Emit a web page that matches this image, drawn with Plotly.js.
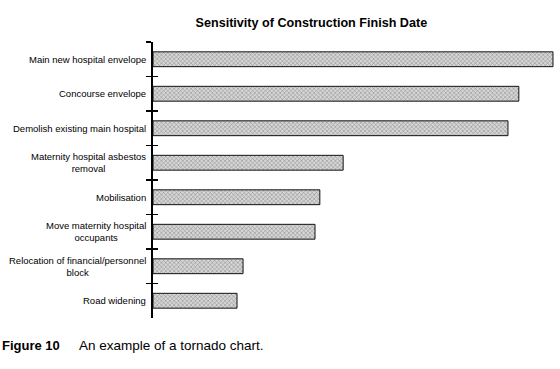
<!DOCTYPE html>
<html>
<head>
<meta charset="utf-8">
<script src="https://cdn.plot.ly/plotly-3.0.1.min.js"></script>
<style>html,body{margin:0;padding:0;background:#fff;}#chart{width:560px;height:369px;}</style>
</head>
<body>
<div id="chart"></div>
<script>
const categories = [
  "Main new hospital envelope",
  "Concourse envelope",
  "Demolish existing main hospital",
  "Maternity hospital asbestos removal",
  "Mobilisation",
  "Move maternity hospital occupants",
  "Relocation of financial/personnel block",
  "Road widening"
];
const tickLabels = [
  "Main new hospital envelope",
  "Concourse envelope",
  "Demolish existing main hospital",
  "Maternity hospital asbestos<br>removal",
  "Mobilisation",
  "Move maternity hospital<br>occupants",
  "Relocation of financial/personnel<br>block",
  "Road widening"
];
const values = [99.5, 91.0, 88.3, 47.3, 41.5, 40.3, 22.4, 20.9];

const fontFam = "Liberation Sans, Arial, sans-serif";

const bars = {
  type: "bar",
  orientation: "h",
  x: values,
  y: categories,
  width: 0.43,
  hoverinfo: "skip",
  marker: {
    color: "#c8c8c8",
    line: {color: "#111", width: 1},
    pattern: {shape: "x", fgcolor: "#858585", bgcolor: "#d6d6d6", size: 3, solidity: 0.3}
  }
};
const ghost = {
  type: "bar",
  orientation: "h",
  x: values,
  y: categories,
  yaxis: "y2",
  width: 0.43,
  hoverinfo: "skip",
  marker: {color: "rgba(0,0,0,0)"},
  showlegend: false
};

const annotations = categories.map((c, i) => ({
  xref: "paper", yref: "y", x: -0.013, y: c,
  xanchor: "right", yanchor: "middle", align: "center",
  text: tickLabels[i], showarrow: false,
  font: {family: fontFam, size: 9.5, color: "#000"}
}));
annotations.push({
  xref: "paper", yref: "paper", x: -0.38, y: -0.1,
  xanchor: "left", yanchor: "middle", showarrow: false,
  text: "<b>Figure 10</b>",
  font: {family: fontFam, size: 13, color: "#000"}
});
annotations.push({
  xref: "paper", yref: "paper", x: -0.19, y: -0.1,
  xanchor: "left", yanchor: "middle", showarrow: false,
  text: "An example of a tornado chart.",
  font: {family: fontFam, size: 13.5, color: "#000"}
});

const layout = {
  width: 560, height: 369,
  margin: {l: 153, r: 5, t: 42, b: 51},
  paper_bgcolor: "#fff", plot_bgcolor: "#fff",
  showlegend: false,
  barmode: "overlay",
  title: {
    text: "<b>Sensitivity of Construction Finish Date</b>",
    font: {family: fontFam, size: 12.6, color: "#000"},
    x: 0.556, xanchor: "center", y: 0.94, yanchor: "middle"
  },
  xaxis: {range: [0, 100], visible: false, fixedrange: true},
  yaxis: {
    type: "category", categoryarray: categories, categoryorder: "array",
    autorange: "reversed",
    showline: true, linecolor: "#000", linewidth: 2,
    ticks: "outside", tickson: "boundaries", ticklen: 5, tickwidth: 1.5, tickcolor: "#000",
    showticklabels: false, showgrid: false, zeroline: false
  },
  yaxis2: {
    type: "category", categoryarray: categories, categoryorder: "array",
    autorange: "reversed", overlaying: "y", side: "left",
    showline: false,
    ticks: "inside", tickson: "boundaries", ticklen: 5, tickwidth: 1.5, tickcolor: "#000",
    showticklabels: false, showgrid: false, zeroline: false
  },
  annotations: annotations
};

Plotly.newPlot("chart", [bars, ghost], layout, {displayModeBar: false, staticPlot: true});
</script>
</body>
</html>
